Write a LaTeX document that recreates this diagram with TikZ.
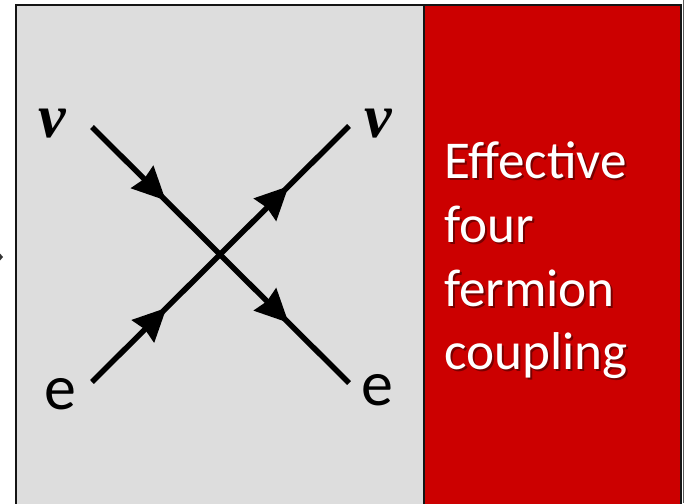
\documentclass[tikz,border=0pt]{standalone}
\usepackage{fontspec}
\setmainfont{Carlito}
\newfontfamily\nufont{Liberation Serif}
\usetikzlibrary{arrows.meta,decorations.markings}
\definecolor{panelgray}{RGB}{221,221,221}
\definecolor{panelred}{RGB}{204,0,0}
\definecolor{edgeblack}{RGB}{20,20,20}
\definecolor{shaderd}{RGB}{120,0,0}
\tikzset{
  x=1pt,y=-1pt,
  panel/.style={draw=edgeblack,line width=2.4pt},
  fermion/.style={line width=5.5pt,draw=black,line cap=butt},
  fermionhead/.tip={Stealth[length=33pt,width=31pt,inset=2.5pt]},
  nulabel/.style={font=\nufont\bfseries\itshape\fontsize{62}{62}\selectfont,inner sep=0pt,text=black},
  elabel/.style={font=\fontsize{64}{64}\selectfont,inner sep=0pt,text=black},
  captionline/.style={font=\fontsize{53.2}{53.2}\selectfont,inner sep=0pt,anchor=base west,text=white},
}
\newcommand{\shadowed}[1]{\rlap{\kern2pt\raisebox{-2pt}{\textcolor{shaderd}{#1}}}#1}
\begin{document}
\begin{tikzpicture}
\useasboundingbox (0,0) rectangle (684,503);
\fill[panelgray] (16,5) rectangle (424,510);
\fill[panelred] (424,5) rectangle (681,510);
\fill[gray!70!black] (682.5,0) rectangle (684,503);
\draw[panel] (16,510) -- (16,5) -- (681,5) -- (681,510);
\draw[panel] (424,5) -- (424,510);
\fill[black!80] (0,253.5) -- (3,257) -- (0,260.5) -- cycle;
\coordinate (nuin) at (92,127);
\coordinate (eout) at (349,383);
\coordinate (ein) at (92,382);
\coordinate (nuout) at (349,126);
\draw[fermion,postaction={decorate},decoration={markings,
  mark=at position 0.287 with {\arrow{fermionhead}},
  mark=at position 0.765 with {\arrow{fermionhead}}}] (nuin) -- (eout);
\draw[fermion,postaction={decorate},decoration={markings,
  mark=at position 0.29 with {\arrow{fermionhead}},
  mark=at position 0.765 with {\arrow{fermionhead}}}] (ein) -- (nuout);
\node[nulabel] (nuleft) at (52,124) {ν};
\node[nulabel] (nuright) at (378,124) {ν};
\node[elabel] (eleft) at (60,394) {e};
\node[elabel] (eright) at (377,390) {e};
\node[captionline] (capa) at (444,178) {\shadowed{Effect{}ive}};
\node[captionline] (capb) at (444,242) {\shadowed{four}};
\node[captionline] (capc) at (444,306) {\shadowed{fermion}};
\node[captionline] (capd) at (444,369) {\shadowed{coupling}};
\end{tikzpicture}
\end{document}
